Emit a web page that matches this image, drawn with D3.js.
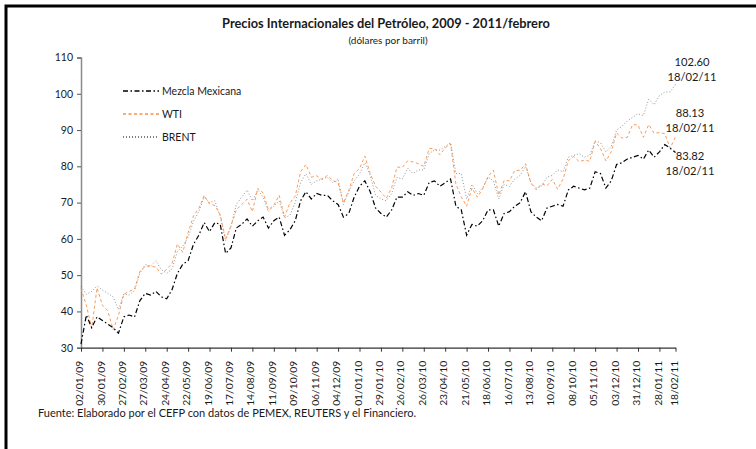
<!DOCTYPE html>
<html lang="es">

<head>
    <meta charset="UTF-8">
    <title>Precios Internacionales del Petróleo</title>
    <script src="https://d3js.org/d3.v7.min.js"></script>
    <style>
        body { margin: 0; background: #fff; }
        svg text { font-family: Lato, "Open Sans", sans-serif; fill: #1a1a1a; }
    </style>
</head>

<body>
    <svg id="chart" width="756" height="449"></svg>
    <script>
        // precios semanales (viernes), 02/01/09 - 18/02/11, dólares por barril
        var mezcla = [
            31.0, 39.0, 35.5, 38.5, 37.5, 36.5, 35.5, 34.0, 38.5, 39.0, 38.5, 43.0, 45.0, 44.5, 45.5, 44.0, 43.5, 46.0, 50.5, 53.0,
            54.0, 58.5, 61.0, 64.5, 62.0, 64.5, 64.0, 56.0, 57.5, 63.0, 64.0, 65.5, 63.5, 65.0, 66.0, 63.0, 65.0, 66.0, 61.0, 62.5,
            65.0, 70.5, 73.0, 71.0, 72.5, 72.0, 72.0, 70.5, 69.5, 66.0, 67.0, 71.5,
            74.5, 76.0, 73.0, 68.5, 67.0, 66.0, 68.0, 71.5, 71.5, 73.0, 72.0, 72.5, 72.0, 75.5, 76.0, 74.5, 75.5, 76.5, 69.0, 68.0,
            61.0, 64.0, 63.5, 65.0, 68.0, 68.0, 63.5, 67.0, 67.5, 69.0, 70.0, 73.0, 67.5, 66.0, 65.0, 68.5, 69.0, 69.5, 69.0, 73.5,
            74.5, 74.0, 73.5, 74.0, 78.5, 78.0, 74.0, 76.0, 80.5, 81.0, 82.0, 82.5, 83.0,
            82.0, 84.5, 82.5, 84.0, 86.0, 85.0, 83.82
        ];
        var wti = [
            46.3, 41.7, 35.4, 46.5, 41.7, 40.2, 35.0, 38.9, 44.8, 45.5, 46.2, 51.1, 52.4, 52.5, 52.2, 50.3, 51.6, 53.2, 58.6, 56.3,
            61.7, 66.3, 68.4, 72.0, 69.6, 69.2, 66.7, 59.9, 63.6, 68.0, 69.5, 70.9, 67.5, 73.9, 72.7, 68.0, 69.3, 72.0, 66.0, 69.9,
            71.8, 78.5, 80.5, 77.0, 77.4, 76.4, 77.5, 76.1, 75.5, 69.9, 73.4, 78.0,
            79.4, 82.8, 78.0, 74.5, 72.9, 71.2, 74.1, 79.8, 79.7, 81.5, 81.2, 80.7, 80.0, 84.9, 84.9, 83.2, 85.1, 86.2, 75.1, 71.6,
            69.0, 74.0, 71.5, 73.8, 77.2, 78.9, 72.1, 76.1, 76.0, 78.9, 78.9, 80.7, 75.4, 73.5, 75.2, 74.6, 76.4, 73.7, 76.5, 81.6,
            82.7, 81.3, 81.7, 81.4, 86.9, 84.9, 81.5, 84.0, 89.2, 87.8, 88.0, 91.5, 91.4,
            88.0, 91.5, 89.1, 89.3, 89.0, 85.0, 88.13
        ];
        var brent = [
            46.9, 44.7, 45.5, 47.0, 45.9, 45.0, 44.0, 40.5, 44.8, 44.5, 45.8, 50.5, 52.9, 52.5, 54.0, 51.5, 50.5, 51.7, 56.5, 58.0,
            60.5, 64.8, 67.5, 71.5, 70.0, 70.5, 66.0, 59.5, 63.5, 69.5, 71.5, 73.5, 70.5, 73.5, 71.5, 67.5, 69.0, 70.5, 65.8, 66.5,
            70.0, 75.5, 78.0, 75.0, 76.0, 76.5, 77.0, 75.5, 76.5, 69.5, 73.0, 76.0,
            77.8, 81.0, 77.5, 72.0, 71.0, 70.5, 72.5, 77.0, 76.5, 79.5, 78.0, 79.0, 79.0, 83.5, 84.5, 84.5, 85.5, 86.5, 78.0, 78.0,
            71.0, 75.0, 72.5, 74.0, 77.0, 76.0, 71.0, 75.0, 74.5, 76.5, 77.5, 80.0, 75.5, 74.0, 74.5, 77.0, 77.5, 79.0, 78.5, 82.5,
            83.0, 83.5, 82.5, 83.0, 87.0, 86.5, 84.0, 85.5, 90.0, 91.0, 92.5, 93.5, 94.5,
            94.0, 98.5, 97.0, 99.5, 100.5, 100.5, 102.6
        ];

        // etiquetas del eje de categorías (una cada 20 días hábiles y la última fecha)
        var xTickLabels = ["02/01/09", "30/01/09", "27/02/09", "27/03/09", "24/04/09", "22/05/09", "19/06/09", "17/07/09",
            "14/08/09", "11/09/09", "09/10/09", "06/11/09", "04/12/09", "01/01/10", "29/01/10", "26/02/10", "26/03/10",
            "23/04/10", "21/05/10", "18/06/10", "16/07/10", "13/08/10", "10/09/10", "08/10/10", "05/11/10", "03/12/10",
            "31/12/10", "28/01/11", "18/02/11"];
        var yTicks = [30, 40, 50, 60, 70, 80, 90, 100, 110];
        var seriesNames = ["Mezcla Mexicana", "WTI", "BRENT"];

        var daysPerPoint = 5;   // un dato por semana
        var daysPerTick = 20;
        var lastDay = (mezcla.length - 1) * daysPerPoint;

        var svg = d3.select("#chart");

        var x = d3.scaleLinear().domain([0, lastDay]).range([81, 675.5]);
        var y = d3.scaleLinear().domain([30, 110]).range([347.7, 57.5]);

        //marco
        svg.append("path")
            .attr("d", "M6,449 V6 H756")
            .attr("fill", "none")
            .attr("stroke", "#000")
            .attr("stroke-width", 3);

        //titulo
        svg.append("text")
            .attr("x", 386).attr("y", 28)
            .attr("text-anchor", "middle")
            .attr("font-size", 12.8).attr("font-weight", "bold")
            .text("Precios Internacionales del Petróleo, 2009 - 2011/febrero");
        svg.append("text")
            .attr("x", 388).attr("y", 43.5)
            .attr("text-anchor", "middle")
            .attr("font-size", 10)
            .text("(dólares por barril)");

        //eje y
        var yAxis = svg.append("g")
            .attr("transform", "translate(81,0)")
            .call(d3.axisLeft(y).tickValues(yTicks).tickSize(4).tickPadding(4));
        yAxis.select(".domain").attr("stroke", "#8a8a8a").attr("stroke-width", 1.5);
        yAxis.selectAll(".tick line").attr("stroke", "#555");
        yAxis.selectAll(".tick text").attr("font-size", 10.5).attr("font-family", "Lato, sans-serif").attr("fill", "#222");

        //eje x
        var tickDays = xTickLabels.map(function (d, i) {
            return i == xTickLabels.length - 1 ? lastDay : i * daysPerTick;
        });
        var xAxis = svg.append("g")
            .attr("transform", "translate(0,347.7)")
            .call(d3.axisBottom(x).tickValues(tickDays).tickSize(4).tickSizeOuter(0)
                .tickFormat(function (d, i) { return xTickLabels[i]; }));
        xAxis.select(".domain").attr("stroke", "#333").attr("stroke-width", 1.2);
        xAxis.selectAll(".tick line").attr("stroke", "#333");
        xAxis.selectAll(".tick text")
            .attr("font-size", 10.3).attr("font-family", "Lato, sans-serif").attr("fill", "#222")
            .attr("text-anchor", "end")
            .attr("transform", "translate(-2,13) rotate(-90)")
            .attr("x", 0).attr("y", 0).attr("dy", "0.35em");

        //series
        var styles = {
            "Mezcla Mexicana": { stroke: "#000", width: 1.2, dash: "5,2.5,1.5,2.5" },
            "WTI": { stroke: "#f7904a", width: 0.9, dash: "3,2.5" },
            "BRENT": { stroke: "#7a7a7a", width: 0.8, dash: "1,2" }
        };
        var seriesData = { "Mezcla Mexicana": mezcla, "WTI": wti, "BRENT": brent };

        var line = d3.line()
            .x(function (d, i) { return x(i * daysPerPoint); })
            .y(function (d) { return y(d); });

        ["BRENT", "WTI", "Mezcla Mexicana"].forEach(function (name) {
            svg.append("path")
                .datum(seriesData[name])
                .attr("d", line)
                .attr("fill", "none")
                .attr("stroke", styles[name].stroke)
                .attr("stroke-width", styles[name].width)
                .attr("stroke-dasharray", styles[name].dash);
        });

        //leyenda
        var legend = svg.selectAll(".legend").data(seriesNames).enter().append("g")
            .attr("class", "legend")
            .attr("transform", function (d, i) { return "translate(123," + (91 + i * 23) + ")"; });
        legend.append("line")
            .attr("x1", 0).attr("x2", 36)
            .attr("stroke", function (d) { return d == "BRENT" ? "#000" : styles[d].stroke; })
            .attr("stroke-width", function (d) { return styles[d].width + 0.4; })
            .attr("stroke-dasharray", function (d) { return styles[d].dash; });
        legend.append("text")
            .attr("x", 39).attr("dy", "0.35em")
            .attr("font-size", 10.5)
            .text(function (d) { return d; });

        //ultimo dato de cada serie
        var lastDate = xTickLabels[xTickLabels.length - 1];
        var notes = [
            { name: "BRENT", x: 692, y: 62 },
            { name: "WTI", x: 690, y: 113 },
            { name: "Mezcla Mexicana", x: 690, y: 156 }
        ];
        notes.forEach(function (n) {
            var vals = seriesData[n.name];
            var g = svg.append("g").attr("font-size", 11.2).attr("text-anchor", "middle");
            g.append("text").attr("x", n.x).attr("y", n.y).attr("dy", "0.35em")
                .text(vals[vals.length - 1].toFixed(2));
            g.append("text").attr("x", n.x).attr("y", n.y + 15).attr("dy", "0.35em")
                .text(lastDate);
        });

        //fuente
        svg.append("text")
            .attr("x", 38).attr("y", 417)
            .attr("font-size", 11)
            .text("Fuente: Elaborado por el CEFP con datos de PEMEX, REUTERS y el Financiero.");
    </script>
</body>

</html>
